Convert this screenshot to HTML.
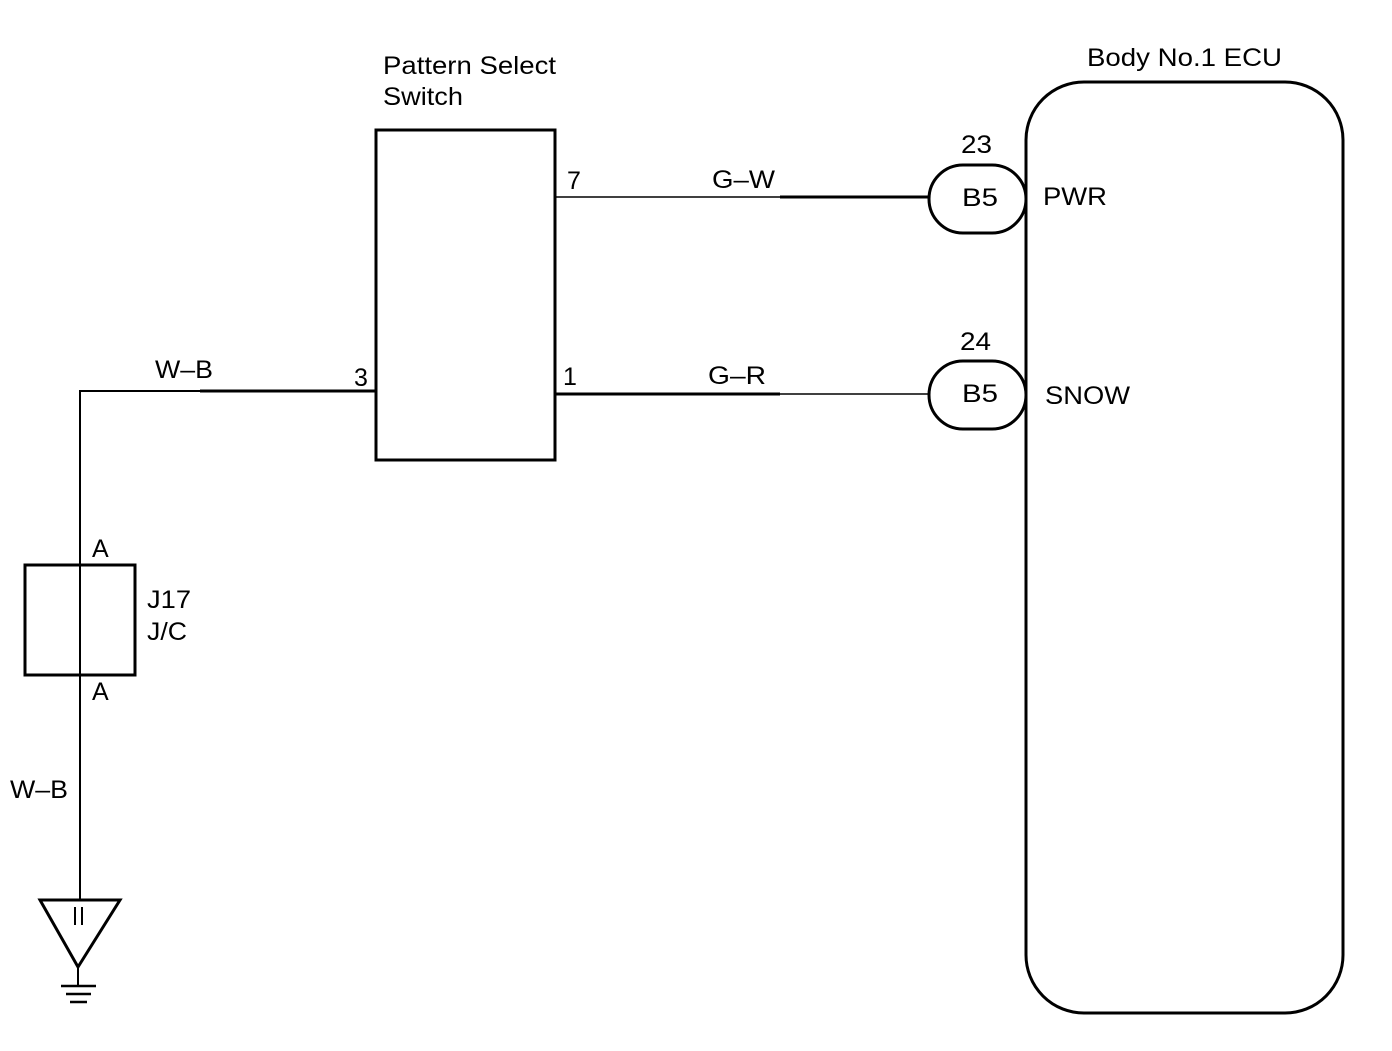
<!DOCTYPE html>
<html><head><style>
html,body{margin:0;padding:0;background:#fff;}
svg text{font-family:"Liberation Sans",Arial,sans-serif;fill:#000;}
</style></head><body>
<svg width="1392" height="1046" viewBox="0 0 1392 1046" xmlns="http://www.w3.org/2000/svg">
<g fill="none" stroke="#000">
<rect x="1026" y="82" width="317" height="931" rx="58" ry="58" stroke-width="3"/>
<rect x="929" y="165" width="97" height="68" rx="34" ry="34" stroke-width="3"/>
<rect x="929" y="361" width="97" height="68" rx="34" ry="34" stroke-width="3"/>
<rect x="376" y="130" width="179" height="330" stroke-width="3"/>
<line x1="555" y1="197" x2="929" y2="197" stroke-width="1.5"/>
<line x1="780" y1="197" x2="929" y2="197" stroke-width="3"/>
<line x1="555" y1="394" x2="929" y2="394" stroke-width="1.5"/>
<line x1="555" y1="394" x2="780" y2="394" stroke-width="3"/>
<line x1="80" y1="391" x2="376" y2="391" stroke-width="2"/>
<line x1="200" y1="391" x2="376" y2="391" stroke-width="3"/>
<line x1="80" y1="390" x2="80" y2="900" stroke-width="2"/>
<rect x="25" y="565" width="110" height="110" stroke-width="3"/>
<polygon points="40,900 120,900 78,967" stroke-width="3"/>
<line x1="78" y1="967" x2="78" y2="985" stroke-width="2"/>
<line x1="61" y1="986" x2="96" y2="986" stroke-width="2.5"/>
<line x1="66" y1="994" x2="91" y2="994" stroke-width="2.5"/>
<line x1="70" y1="1002" x2="87" y2="1002" stroke-width="2.5"/>
<line x1="75" y1="907" x2="75" y2="925" stroke-width="2"/>
<line x1="82" y1="907" x2="82" y2="925" stroke-width="2"/>
</g>
<g font-size="25" lengthAdjust="spacingAndGlyphs">
<text x="1087" y="66" textLength="195" lengthAdjust="spacingAndGlyphs">Body No.1 ECU</text>
<text x="961" y="153" textLength="31" lengthAdjust="spacingAndGlyphs">23</text>
<text x="960" y="350" textLength="31" lengthAdjust="spacingAndGlyphs">24</text>
<text x="962" y="206" textLength="36" lengthAdjust="spacingAndGlyphs">B5</text>
<text x="962" y="402" textLength="36" lengthAdjust="spacingAndGlyphs">B5</text>
<text x="1043" y="205" textLength="64" lengthAdjust="spacingAndGlyphs">PWR</text>
<text x="1045" y="404" textLength="85" lengthAdjust="spacingAndGlyphs">SNOW</text>
<text x="383" y="74" textLength="173" lengthAdjust="spacingAndGlyphs">Pattern Select</text>
<text x="383" y="105" textLength="80" lengthAdjust="spacingAndGlyphs">Switch</text>
<text x="567" y="189">7</text>
<text x="563" y="385">1</text>
<text x="354" y="386">3</text>
<text x="712" y="188" textLength="63" lengthAdjust="spacingAndGlyphs">G–W</text>
<text x="708" y="384" textLength="58" lengthAdjust="spacingAndGlyphs">G–R</text>
<text x="155" y="378" textLength="58" lengthAdjust="spacingAndGlyphs">W–B</text>
<text x="92" y="557">A</text>
<text x="92" y="700">A</text>
<text x="147" y="608" textLength="44" lengthAdjust="spacingAndGlyphs">J17</text>
<text x="147" y="640" textLength="40" lengthAdjust="spacingAndGlyphs">J/C</text>
<text x="10" y="798" textLength="58" lengthAdjust="spacingAndGlyphs">W–B</text>
</g>
</svg>
</body></html>
